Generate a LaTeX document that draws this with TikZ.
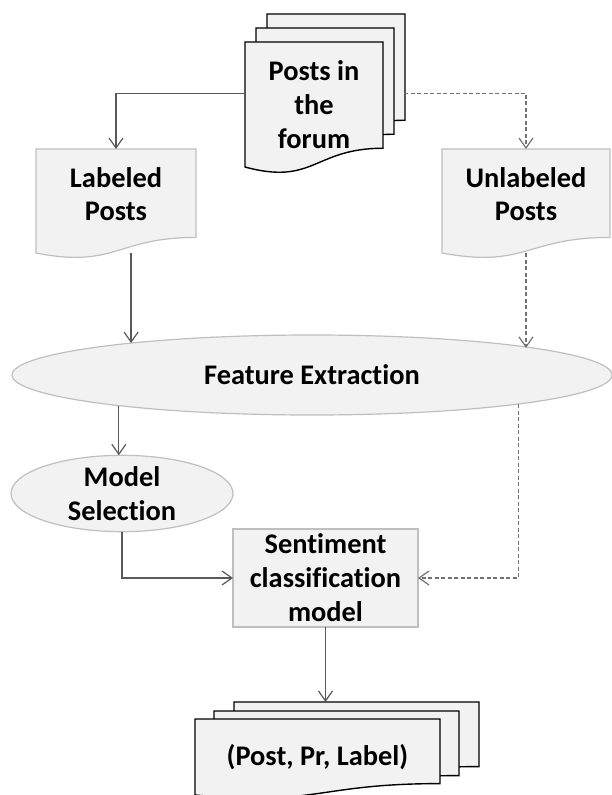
\documentclass[tikz,border=0pt]{standalone}
\usepackage{fontspec}
\setmainfont{Carlito}[Ligatures=NoCommon]
\usetikzlibrary{arrows.meta,calc,shapes.geometric,backgrounds}
\definecolor{boxfill}{HTML}{F2F2F2}
\definecolor{boxline}{HTML}{BFBFBF}
\definecolor{arrowline}{HTML}{595959}
\newcommand{\docpath}[1]{(#1.north west) -- (#1.north east) -- ($(#1.north east)!0.85!(#1.south east)$) .. controls ($(#1.north)!0.85!(#1.south)$) and ($(#1.north)!1.15!(#1.south)$) .. (#1.south west) -- cycle}
\begin{document}
\begin{tikzpicture}[x=1bp,y=-1bp,
	txt/.style={font=\fontsize{28.5}{34}\selectfont\bfseries,align=center,inner sep=0pt,outer sep=0pt},
	doc/.style={txt,rectangle},
	blackdoc/.style={fill=boxfill,draw=black,line width=1.4bp},
	graydoc/.style={fill=boxfill,draw=boxline,line width=1.2bp},
	arr/.style={draw=arrowline,line width=1.2bp,-{Straight Barb[length=10bp,width=14bp]}},
	darr/.style={arr,draw=arrowline!85,dash pattern=on 4bp off 2.5bp}]
	\useasboundingbox (0,0) rectangle (612,795);
	\node[doc,minimum width=138bp,minimum height=125bp] (posts) at (314,104.5) {Posts in\\the\\forum};
	\node[doc,minimum width=160bp,minimum height=104bp,text depth=14bp] (lab) at (116,201) {Labeled\\Posts};
	\node[doc,minimum width=168bp,minimum height=104bp,text depth=14bp] (unl) at (526,201) {Unlabeled\\Posts};
	\node[txt,ellipse,fill=boxfill,draw=boxline,line width=1.2bp,minimum width=600bp,minimum height=80bp] (fe) at (312,375) {Feature Extraction};
	\node[txt,ellipse,fill=boxfill,draw=boxline,line width=1.2bp,minimum width=222bp,minimum height=73bp] (ms) at (122,493.5) {Model\\Selection};
	\node[txt,rectangle,fill=boxfill,draw=boxline,line width=1.2bp,minimum width=185bp,minimum height=98bp] (sc) at (325.5,578) {Sentiment\\classification\\model};
	\node[doc,minimum width=245bp,minimum height=76bp] (out) at (317.5,757) {(Post, Pr, Label)};
	\begin{scope}[on background layer]
		\draw[blackdoc,transform canvas={shift={(22bp,28bp)}}] \docpath{posts};
		\draw[blackdoc,transform canvas={shift={(11bp,14bp)}}] \docpath{posts};
		\draw[blackdoc] \docpath{posts};
		\draw[graydoc] \docpath{lab};
		\draw[graydoc] \docpath{unl};
		\draw[blackdoc,transform canvas={shift={(39bp,17bp)}}] \docpath{out};
		\draw[blackdoc,transform canvas={shift={(19bp,8bp)}}] \docpath{out};
		\draw[blackdoc] \docpath{out};
	\end{scope}
	\coordinate (backedge) at ($(posts.north east)!0.41!(posts.south east)+(21bp,0)$);
	\coordinate (outtop) at ([yshift=17bp]out.north);
	\draw[arr] ($(posts.north west)!0.41!(posts.south west)$) -| (lab.north);
	\draw[darr] (backedge) -| (unl.north);
	\draw[arr] (lab.south -| fe.170.75) -- (fe.170.75);
	\draw[darr] (unl.south) -- (unl.south |- fe.7.46);
	\draw[arr] (fe.189.25) -- (fe.189.25 |- ms.north);
	\draw[darr] (fe.352.54) |- (sc.east);
	\draw[arr] (ms.south) |- (sc.west);
	\draw[arr] (sc.south) -- (sc.south |- outtop);
\end{tikzpicture}
\end{document}
